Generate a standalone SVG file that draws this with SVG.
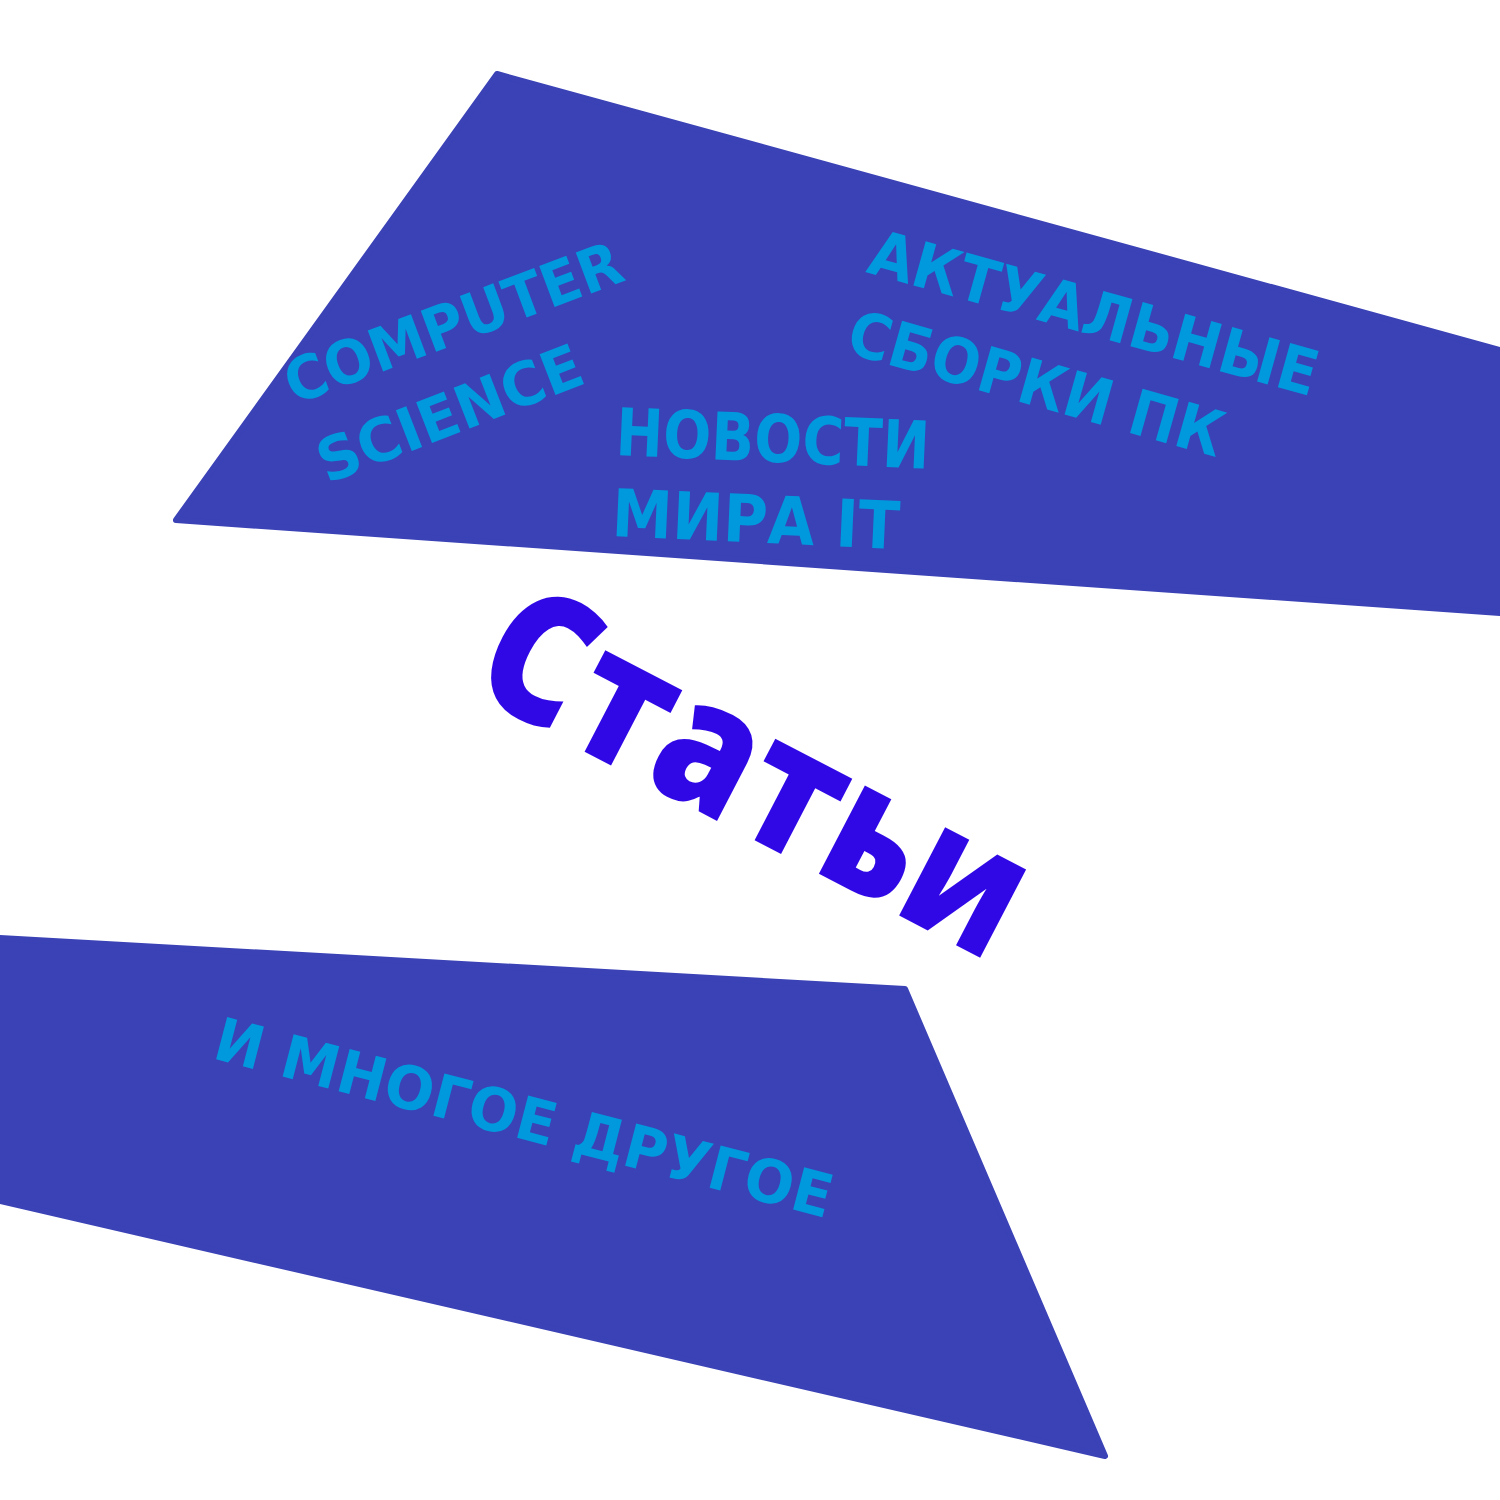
<svg xmlns="http://www.w3.org/2000/svg" width="1500" height="1500" viewBox="0 0 1500 1500">
<style>
.band{fill:#3A42B6;stroke:#3A42B6;stroke-width:6;stroke-linejoin:round}
.t{font-family:"DejaVu Sans Condensed","DejaVu Sans",sans-serif;font-stretch:condensed;font-weight:bold;fill:#0099DD}
.big{font-family:"Open Sans","Lato",sans-serif;font-weight:800;fill:#3008E6}
</style>
<rect width="1500" height="1500" fill="#FFFFFF"/>
<g id="band-top">
<polygon class="band" points="497,74 1500,350 1500,613 176,520"/>
</g>
<g id="band-bottom">
<polygon class="band" points="0,938 905,989 1105,1456 0,1201"/>
</g>
<g id="computer-science">
<text class="t" font-size="60" transform="translate(294,405) rotate(-20.6)" textLength="356" lengthAdjust="spacingAndGlyphs">COMPUTER</text>
<text class="t" font-size="60" transform="translate(327,484) rotate(-21.3)" textLength="280" lengthAdjust="spacingAndGlyphs">SCIENCE</text>
</g>
<g id="news">
<text class="t" font-size="66" transform="translate(615,455) rotate(2.5)" textLength="314" lengthAdjust="spacingAndGlyphs">НОВОСТИ</text>
<text class="t" font-size="66" transform="translate(611,536) rotate(2.6)" textLength="288" lengthAdjust="spacingAndGlyphs">МИРА IT</text>
</g>
<g id="builds">
<text class="t" font-size="63" transform="translate(865,272) rotate(15.6)" textLength="463" lengthAdjust="spacingAndGlyphs">АКТУАЛЬНЫЕ</text>
<text class="t" font-size="63" transform="translate(844,352) rotate(15.8)" textLength="387" lengthAdjust="spacingAndGlyphs">СБОРКИ ПК</text>
</g>
<g id="other">
<text class="t" font-size="60" transform="translate(211,1058) rotate(14.6)" textLength="636" lengthAdjust="spacingAndGlyphs">И МНОГОЕ ДРУГОЕ</text>
</g>
<g id="title">
<text class="big" font-size="180" transform="translate(466,690) rotate(27.5)" textLength="590" lengthAdjust="spacingAndGlyphs">Статьи</text>
</g>
</svg>
